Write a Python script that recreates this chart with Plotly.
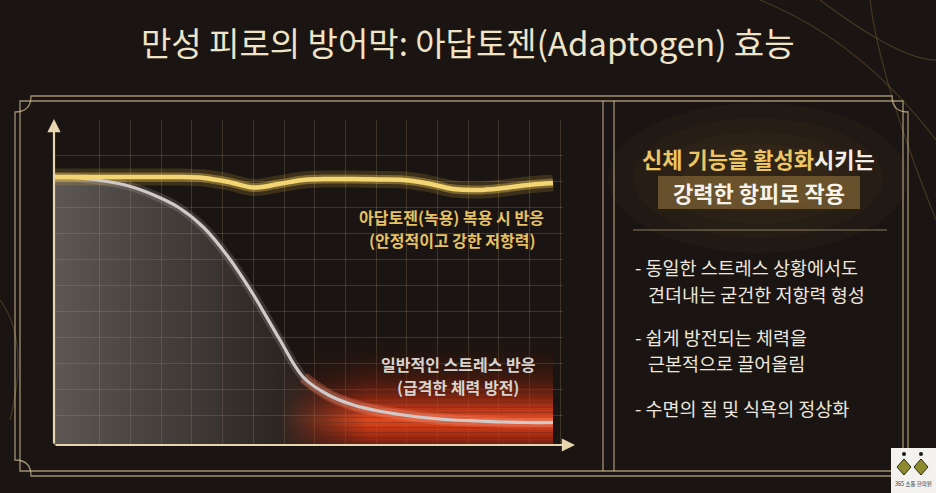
import plotly.graph_objects as go

# ---------------- data ----------------
time_pts = [0, 5, 10, 15, 20, 25, 30, 35, 40, 45, 50, 55, 60, 65, 70, 75, 80, 85, 90, 95, 100]
adaptogen_response = [53.6, 53.6, 53.6, 53.6, 53.6, 53.6, 53.4, 52.6, 51.5, 52.2, 53.0, 53.2, 53.2, 53.1, 53.0, 52.3, 51.2, 51.0, 51.4, 52.0, 52.4]
stress_response = [53.6, 53.4, 52.8, 51.8, 50.0, 47.5, 43.5, 37.5, 30.0, 21.5, 13.5, 10.0, 8.0, 6.8, 6.0, 5.4, 5.0, 4.8, 4.6, 4.5, 4.5]

title_text = "만성 피로의 방어막: 아답토젠(Adaptogen) 효능"
adaptogen_label = ["아답토젠(녹용) 복용 시 반응", "(안정적이고 강한 저항력)"]
stress_label = ["일반적인 스트레스 반응", "(급격한 체력 방전)"]
panel_head = ["신체 기능을 활성화", "시키는", "강력한 항피로 작용"]
bullets = [
    ["- 동일한 스트레스 상황에서도", "견뎌내는 굳건한 저항력 형성"],
    ["- 쉽게 방전되는 체력을", "근본적으로 끌어올림"],
    ["- 수면의 질 및 식욕의 정상화"],
]
logo_text = "365 소통 한의원"

# ---------------- helpers ----------------
W, H = 936, 493
def PX(x):
    return x / W
def PY(y):
    return 1 - y / H

KR = "Noto Sans CJK KR"
BG = "#1a1512"
GOLD = "#e6c262"
LINE_C = "rgba(205,185,145,0.75)"

fig = go.Figure()

# gray fill under the stress curve
fig.add_trace(go.Scatter(
    x=time_pts, y=stress_response, mode="none", fill="tozeroy",
    fillgradient=dict(type="horizontal", start=0, stop=100,
                      colorscale=[[0, "rgba(175,170,165,0.45)"], [0.3, "rgba(135,130,125,0.32)"],
                                  [0.5, "rgba(110,100,95,0.16)"], [0.65, "rgba(60,40,30,0)"],
                                  [1, "rgba(60,40,30,0)"]]),
    hoverinfo="skip", showlegend=False))

# red glow zone: vertical colour profile (style), drawn as thin bands fading in from the left
glow_profile = [
    (0, (175, 38, 16, 0.65)),
    (3, (220, 58, 22, 0.85)),
    (5, (240, 78, 32, 0.92)),
    (7.5, (220, 60, 24, 0.78)),
    (10, (180, 45, 17, 0.60)),
    (13, (125, 32, 12, 0.42)),
    (16, (90, 24, 9, 0.28)),
    (19, (65, 17, 6, 0.14)),
    (22, (50, 14, 5, 0.0)),
]
def glow_at(y):
    for (ya, ca), (yb_, cb) in zip(glow_profile[:-1], glow_profile[1:]):
        if ya <= y <= yb_:
            t = (y - ya) / (yb_ - ya)
            return tuple(ca[i] + (cb[i] - ca[i]) * t for i in range(4))
    return glow_profile[-1][1]

step = 0.5
yb = 0.0
while yb < 22 - 1e-9:
    r, g, b, a = glow_at(yb + step / 2)
    fig.add_trace(go.Scatter(
        x=[44, 100, 100, 44, 44], y=[yb, yb, yb + step, yb + step, yb], mode="none", fill="toself",
        fillgradient=dict(type="horizontal", start=45, stop=63,
                          colorscale=[[0, f"rgba({r:.0f},{g:.0f},{b:.0f},0)"],
                                      [1, f"rgba({r:.0f},{g:.0f},{b:.0f},{a:.3f})"]]),
        hoverinfo="skip", showlegend=False))
    yb += step

# glows
fig.add_trace(go.Scatter(x=time_pts[10:], y=stress_response[10:], mode="lines",
                         line=dict(color="rgba(255,110,70,0.30)", width=12, shape="spline"),
                         hoverinfo="skip", showlegend=False))
fig.add_trace(go.Scatter(x=time_pts, y=stress_response, mode="lines",
                         line=dict(color="rgba(225,220,220,0.16)", width=9, shape="spline"),
                         hoverinfo="skip", showlegend=False))
fig.add_trace(go.Scatter(x=time_pts, y=adaptogen_response, mode="lines",
                         line=dict(color="rgba(240,190,70,0.16)", width=17, shape="spline"),
                         hoverinfo="skip", showlegend=False))
fig.add_trace(go.Scatter(x=time_pts, y=adaptogen_response, mode="lines",
                         line=dict(color="rgba(245,205,90,0.35)", width=9, shape="spline"),
                         hoverinfo="skip", showlegend=False))
# main lines
fig.add_trace(go.Scatter(x=time_pts, y=stress_response, mode="lines", name="일반적인 스트레스 반응",
                         line=dict(color="#d2cac8", width=3.2, shape="spline"), showlegend=False))
fig.add_trace(go.Scatter(x=time_pts, y=adaptogen_response, mode="lines", name="아답토젠 복용 시 반응",
                         line=dict(color="#f3d574", width=4.5, shape="spline"), showlegend=False))

grid_x = [9.2 + 6.15 * k for k in range(16)]
grid_y = [6.0 + 5.2 * k for k in range(11)]

fig.update_layout(
    width=W, height=H, margin=dict(l=0, r=0, t=0, b=0),
    paper_bgcolor=BG, plot_bgcolor="rgba(0,0,0,0)",
    xaxis=dict(domain=[PX(54), PX(563)], range=[0, 102], tickvals=grid_x, showticklabels=False,
               showgrid=True, gridcolor="rgba(205,185,145,0.20)", gridwidth=1,
               zeroline=False, showline=False, ticks="", fixedrange=True),
    yaxis=dict(domain=[PY(445), PY(120)], range=[0, 65], tickvals=grid_y, showticklabels=False,
               showgrid=True, gridcolor="rgba(205,185,145,0.20)", gridwidth=1,
               zeroline=False, showline=False, ticks="", fixedrange=True),
    showlegend=False,
)

def path_px_to_paper(p):
    toks = p.replace(",", " , ").split()
    res = []
    i = 0
    while i < len(toks):
        t = toks[i]
        if t in ("M", "L", "Q", "Z", "C"):
            res.append(t)
            i += 1
        else:
            x = float(toks[i]); y = float(toks[i + 2])
            res.append(f"{PX(x):.5f},{PY(y):.5f}")
            i += 3
    return " ".join(res)

def rect_px(x0, y0, x1, y1, **kw):
    d = dict(type="rect", xref="paper", yref="paper", x0=PX(x0), x1=PX(x1), y0=PY(y1), y1=PY(y0))
    d.update(kw)
    return d

def line_px(x0, y0, x1, y1, color=LINE_C, width=1.3):
    return dict(type="line", xref="paper", yref="paper", x0=PX(x0), x1=PX(x1), y0=PY(y0), y1=PY(y1),
                line=dict(color=color, width=width))

shapes = []
# soft warm glow behind the panel heading (concentric translucent ellipses)
for rx, ry in [(150, 75), (125, 60), (100, 46), (75, 34)]:
    shapes.append(dict(type="circle", xref="paper", yref="paper", layer="below",
                       x0=PX(758 - rx), x1=PX(758 + rx), y0=PY(178 + ry), y1=PY(178 - ry),
                       fillcolor="rgba(150,115,60,0.05)", line=dict(width=0)))

outer = ("M 31,96 L 892,96 Q 892,112 908,112 L 908,460 Q 892,460 892,476 "
         "L 31,476 Q 31,460 15,460 L 15,112 Q 31,112 31,96 Z")
shapes.append(dict(type="path", path=path_px_to_paper(outer), xref="paper", yref="paper",
                   line=dict(color=LINE_C, width=1.3)))
shapes.append(rect_px(20, 101, 903, 471, line=dict(color=LINE_C, width=1.3)))
shapes.append(line_px(603, 101, 603, 471))
shapes.append(line_px(614, 101, 614, 471))
# highlight box
shapes.append(rect_px(658, 176, 860, 209, fillcolor="rgba(140,110,58,0.62)", line=dict(width=0)))
# divider
shapes.append(line_px(633, 230, 887, 230, color="rgba(190,170,130,0.45)", width=1.5))

# decorative golden swirls
swirls = [
    "M 760,0 Q 860,40 936,140",
    "M 820,0 Q 900,60 936,60",
    "M 870,0 Q 880,80 936,220",
    "M 0,300 Q 30,340 10,420",
]
for s in swirls:
    shapes.append(dict(type="path", path=path_px_to_paper(s), xref="paper", yref="paper",
                       line=dict(color="rgba(200,160,80,0.25)", width=1.2), layer="below"))

# logo
shapes.append(rect_px(891, 448, 936, 493, fillcolor="#f4f2ee", line=dict(width=0)))
for cx in (904, 921):
    dpath = f"M {cx},{459} L {cx+7},{467} L {cx},{475} L {cx-7},{467} Z"
    shapes.append(dict(type="path", path=path_px_to_paper(dpath), xref="paper", yref="paper",
                       fillcolor="#8e8a2e", line=dict(color="#2a2a10", width=1)))
    shapes.append(dict(type="circle", xref="paper", yref="paper", x0=PX(cx - 2), x1=PX(cx + 2),
                       y0=PY(456), y1=PY(452), fillcolor="#1a1a1a", line=dict(width=0)))
fig.update_layout(shapes=shapes)

ann = []
# axes arrows
ann.append(dict(x=PX(54), y=PY(119), xref="paper", yref="paper", ax=0, ay=326, axref="pixel", ayref="pixel",
                text="", showarrow=True, arrowhead=2, arrowsize=1.2, arrowwidth=2.2, arrowcolor="#e6d5ae"))
ann.append(dict(x=PX(575), y=PY(445), xref="paper", yref="paper", ax=-521, ay=0,
                text="", showarrow=True, arrowhead=2, arrowsize=1.2, arrowwidth=2.2, arrowcolor="#e6d5ae"))

def txt(x, y, s, size, color, bold=False, xanchor="center", family=KR):
    return dict(x=PX(x), y=PY(y), xref="paper", yref="paper", text=(f"<b>{s}</b>" if bold else s),
                showarrow=False, xanchor=xanchor, yanchor="middle", borderpad=0,
                font=dict(family=family, size=size, color=color))

ann.append(txt(468, 42, title_text, 33, "#efe3c8"))
ann.append(txt(451, 217, adaptogen_label[0], 16, GOLD, bold=True))
ann.append(txt(452, 240, adaptogen_label[1], 16, GOLD, bold=True))
ann.append(txt(458, 364, stress_label[0], 16, "#d9d3cd", bold=True))
ann.append(txt(458, 387, stress_label[1], 16, "#d9d3cd", bold=True))

head1 = f"<b><span style='color:#edc563'>{panel_head[0]}</span>{panel_head[1]}</b>"
ann.append(dict(x=PX(758), y=PY(158), xref="paper", yref="paper", text=head1, showarrow=False,
                xanchor="center", yanchor="middle", font=dict(family=KR, size=22, color="#f3eee6")))
ann.append(txt(759, 192, panel_head[2], 22, "#f7f3ea", bold=True))

bullet_y = [[267, 294], [337, 363], [408]]
for grp, ys in zip(bullets, bullet_y):
    for i, (s, y) in enumerate(zip(grp, ys)):
        ann.append(txt(634 if i == 0 else 647, y, s, 18.5, "#ece6dc", xanchor="left"))

ann.append(txt(913.5, 484, logo_text, 5.5, "#333333"))
fig.update_layout(annotations=ann)

fig.write_html("out.html", config={"displayModeBar": False},
               post_script="document.body.style.margin='0';document.body.style.overflow='hidden';")
